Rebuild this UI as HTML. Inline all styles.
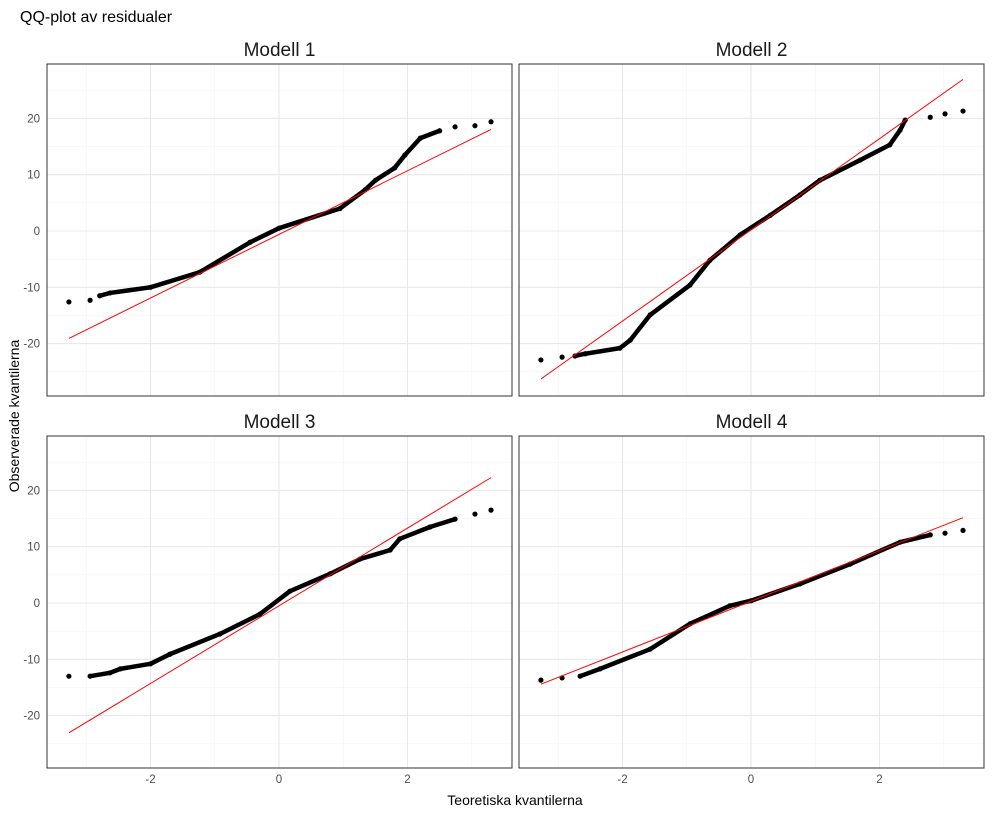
<!DOCTYPE html>
<html><head><meta charset="utf-8"><style>
body{margin:0;background:#fff;font-family:"Liberation Sans",sans-serif}
</style></head><body>
<svg id="c" width="992" height="813" xmlns="http://www.w3.org/2000/svg" font-family="Liberation Sans, sans-serif">
<text x="20" y="22" font-size="16" fill="#000">QQ-plot av residualer</text>
<text x="515" y="805" font-size="14" text-anchor="middle" fill="#000">Teoretiska kvantilerna</text>
<text transform="translate(19,416) rotate(-90)" font-size="14" text-anchor="middle" fill="#000">Observerade kvantilerna</text>
</svg>
<script>
const titles=["Modell 1","Modell 2","Modell 3","Modell 4"];
const xTicks=[-2,0,2];
const yTicks=[-20,-10,0,10,20];
const xMinor=[-3,-1,1,3];
const yMinor=[-25,-15,-5,5,15,25];
const m1x=[-3.27,-2.94,-2.79,-2.63,-2.0,-1.23,-0.45,0,0.95,1.34,1.5,1.8,1.96,2.2,2.5,2.74,3.05,3.3];
const m1y=[-12.6,-12.3,-11.5,-11,-10,-7.3,-2,0.5,4,7.3,9,11.2,13.5,16.5,17.8,18.5,18.7,19.4];
const m2x=[-3.27,-2.94,-2.74,-2.58,-2.04,-1.88,-1.57,-0.95,-0.64,-0.17,0.3,0.76,1.07,1.7,2.16,2.32,2.4,2.79,3.02,3.3];
const m2y=[-22.9,-22.4,-22.2,-21.8,-20.8,-19.4,-14.9,-9.6,-5.2,-0.7,2.8,6.4,9,12.6,15.3,17.9,19.7,20.2,20.8,21.3];
const m3x=[-3.27,-2.94,-2.63,-2.47,-2.0,-1.7,-0.92,-0.3,0.17,0.8,1.26,1.73,1.88,2.35,2.74,3.05,3.3];
const m3y=[-13,-13,-12.4,-11.7,-10.8,-9.1,-5.5,-2,2.1,5.2,7.8,9.4,11.4,13.5,14.9,15.8,16.5];
const m4x=[-3.27,-2.94,-2.66,-2.35,-1.57,-0.95,-0.33,0,0.76,1.54,2.32,2.79,3.02,3.3];
const m4y=[-13.7,-13.3,-13,-11.7,-8.2,-3.7,-0.5,0.4,3.4,6.9,10.8,12.1,12.4,12.9];
const tailL=[3,3,2,3];
const tailR=[4,4,3,3];
const lineIntercept=[-0.6,0.2,-0.5,0.3];
const lineSlope=[5.65,8.1,6.9,4.5];
const XS=[m1x,m2x,m3x,m4x], YS=[m1y,m2y,m3y,m4y];
const svg=document.getElementById('c');
const NS="http://www.w3.org/2000/svg";
function mk(t,a,p){const e=document.createElementNS(NS,t);for(const k in a)e.setAttribute(k,a[k]);(p||svg).appendChild(e);return e;}
const panels=[[47,64],[519,64],[47,436],[519,436]];
const W=465,H=332;
for(let i=0;i<4;i++){
  const [L,T]=panels[i];
  const sx=v=>L+232+v*64.25;
  const sy=v=>T+167-v*5.63;
  const g=mk('g',{});
  
  
  xMinor.forEach(v=>mk('line',{x1:sx(v),x2:sx(v),y1:T,y2:T+H,stroke:'#f3f3f3','stroke-width':0.6},g));
  yMinor.forEach(v=>mk('line',{x1:L,x2:L+W,y1:sy(v),y2:sy(v),stroke:'#f3f3f3','stroke-width':0.6},g));
  xTicks.forEach(v=>mk('line',{x1:sx(v),x2:sx(v),y1:T,y2:T+H,stroke:'#e8e8e8','stroke-width':1.1},g));
  yTicks.forEach(v=>mk('line',{x1:L,x2:L+W,y1:sy(v),y2:sy(v),stroke:'#e8e8e8','stroke-width':1.1},g));
  const t=mk('text',{x:L+W/2,y:T-8,'font-size':19,'text-anchor':'middle',fill:'#1a1a1a'},g);
  t.textContent=titles[i];
  
  
  const xs=XS[i],ys=YS[i];
  const dense=[];
  for(let j=tailL[i]-1;j<=xs.length-tailR[i];j++)dense.push(sx(xs[j])+','+sy(ys[j]));
  const pl=mk('polyline',{points:dense.join(' '),fill:'none',stroke:'#000','stroke-width':4.5,'stroke-linejoin':'round','stroke-linecap':'round'},g);
  
  
  for(let j=0;j<xs.length;j++){
    const c=mk('circle',{cx:sx(xs[j]),cy:sy(ys[j]),r:2.6,fill:'#000'},g);
    
    
  }
  const x0=-3.27,x1=3.3;
  const ln=mk('line',{x1:sx(x0),x2:sx(x1),y1:sy(lineIntercept[i]+lineSlope[i]*x0),y2:sy(lineIntercept[i]+lineSlope[i]*x1),stroke:'#ff0000','stroke-width':1},g);
  
  
  mk('path',{d:`M${L} ${T}h${W}v${H}h${-W}Z`,fill:'none',stroke:'#333','stroke-width':1},g);
  if(i%2==0) yTicks.forEach(v=>{const e=mk('text',{x:L-7,y:sy(v)+4,'font-size':11.5,'text-anchor':'end',fill:'#4d4d4d'},g);e.textContent=v;
    });
  if(i>=2) xTicks.forEach(v=>{const e=mk('text',{x:sx(v),y:T+H+15,'font-size':11.5,'text-anchor':'middle',fill:'#4d4d4d'},g);e.textContent=v;
    });
}
</script>
</body></html>
